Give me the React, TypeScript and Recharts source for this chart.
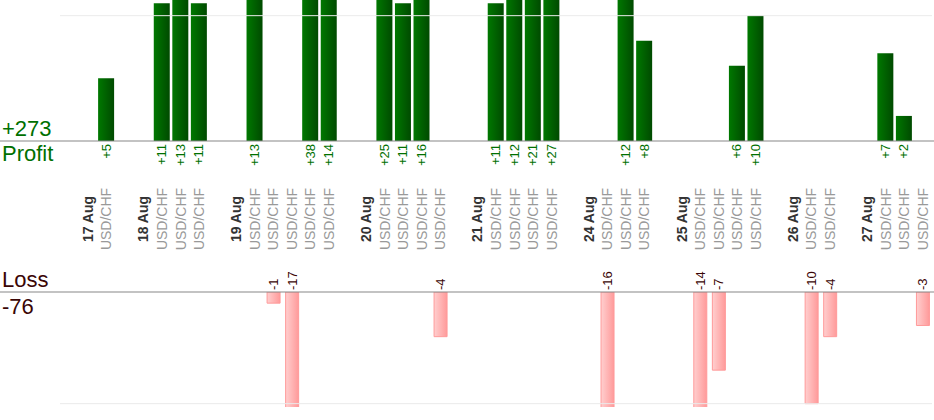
import { Bar, BarChart, LabelList, ReferenceLine, XAxis, YAxis } from "recharts";

const INSTRUMENT = "USD/CHF";
const DATES = ["17 Aug", "18 Aug", "19 Aug", "20 Aug", "21 Aug", "24 Aug", "25 Aug", "26 Aug", "27 Aug"];
// result of each trade, per day, in order
const TRADES = [
  [5],
  [11, 13, 11],
  [13, -1, -17, 38, 14],
  [25, 11, 16, -4],
  [11, 12, 21, 27],
  [-16, 12, 8],
  [-14, -7, 6, 10],
  [-10, -4],
  [7, 2, -3]
];

type Row = { slot: number; label: string; kind: "gap" | "date" | "trade"; profit: number | null; loss: number | null };

const rows: Row[] = [];
DATES.forEach((d, i) => {
  rows.push({ slot: rows.length, label: "", kind: "gap", profit: null, loss: null });
  rows.push({ slot: rows.length, label: d, kind: "date", profit: null, loss: null });
  TRADES[i].forEach((v) => {
    rows.push({
      slot: rows.length,
      label: INSTRUMENT,
      kind: "trade",
      profit: v > 0 ? v : null,
      loss: v < 0 ? v : null
    });
  });
});

const totalProfit = TRADES.flat().filter((v) => v > 0).reduce((a, b) => a + b, 0);
const totalLoss = TRADES.flat().filter((v) => v < 0).reduce((a, b) => a + b, 0);

const FONT = "'Liberation Sans', Arial, sans-serif";
const GREEN = "#007000";
const MAROON = "#3a0505";

function SlotTick(props: any) {
  const { x, y, payload } = props;
  const row = rows[payload.value];
  if (!row || !row.label) return null;
  const cy = y + 70;
  const isDate = row.kind === "date";
  return (
    <text
      x={x}
      y={cy}
      transform={`rotate(-90, ${x}, ${cy})`}
      textAnchor="middle"
      dominantBaseline="central"
      fontFamily={FONT}
      fontSize={14}
      fontWeight={isDate ? "bold" : "normal"}
      fill={isDate ? "#333" : "#999"}
    >
      {row.label}
    </text>
  );
}

function ProfitLabel(props: any) {
  const { x, y, width, height, value } = props;
  if (value == null) return null;
  const cx = x + width / 2;
  const base = Math.max(y, y + height) + 3;
  return (
    <text
      x={cx}
      y={base}
      transform={`rotate(-90, ${cx}, ${base})`}
      textAnchor="end"
      dominantBaseline="central"
      fontFamily={FONT}
      fontSize={13}
      fill={GREEN}
    >
      {`+${value}`}
    </text>
  );
}

function LossLabel(props: any) {
  const { x, y, width, height, value } = props;
  if (value == null) return null;
  const cx = x + width / 2;
  const base = Math.min(y, y + height) - 2;
  return (
    <text
      x={cx}
      y={base}
      transform={`rotate(-90, ${cx}, ${base})`}
      textAnchor="start"
      dominantBaseline="central"
      fontFamily={FONT}
      fontSize={13}
      fill={MAROON}
    >
      {`${value}`}
    </text>
  );
}

const fullWidthLine = (p: any) => (
  <line x1={0} x2={934} y1={p.y1} y2={p.y2} stroke="#888" strokeWidth={1.2} />
);

const textStyle = { position: "absolute" as const, left: 2, fontFamily: FONT, fontSize: 22, lineHeight: "22px" };

export default function App() {
  return (
    <div style={{ position: "absolute", left: 0, top: 0, width: 934, height: 420, background: "#fff" }}>
      <BarChart
        width={934}
        height={260}
        data={rows}
        margin={{ top: 0, right: 2, left: 60, bottom: 0 }}
        style={{ position: "absolute", left: 0, top: 0 }}
      >
        <defs>
          <linearGradient id="greenBar" x1="0" x2="1" y1="0" y2="0">
            <stop offset="0%" stopColor="#007800" />
            <stop offset="100%" stopColor="#004a00" />
          </linearGradient>
        </defs>
        <XAxis
          dataKey="slot"
          height={119}
          interval={0}
          axisLine={false}
          tickLine={false}
          tick={<SlotTick />}
        />
        <YAxis hide domain={[0, 11.25]} allowDataOverflow />
        <ReferenceLine y={10} stroke="#ebebeb" />
        <Bar dataKey="profit" fill="url(#greenBar)" barSize={16} isAnimationActive={false}>
          <LabelList dataKey="profit" content={<ProfitLabel />} />
        </Bar>
        <ReferenceLine y={0} shape={fullWidthLine} />
      </BarChart>

      <BarChart
        width={934}
        height={170}
        data={rows}
        margin={{ top: 42, right: 2, left: 60, bottom: 13 }}
        style={{ position: "absolute", left: 0, top: 250 }}
      >
        <defs>
          <linearGradient id="pinkBar" x1="0" x2="1" y1="0" y2="0">
            <stop offset="0%" stopColor="#ffcfcf" />
            <stop offset="100%" stopColor="#ff9a9a" />
          </linearGradient>
        </defs>
        <XAxis dataKey="slot" hide />
        <YAxis hide domain={[-10.3, 0]} allowDataOverflow />
        <ReferenceLine y={-10} stroke="#ebebeb" />
        <Bar dataKey="loss" fill="url(#pinkBar)" stroke="#ff9a9a" barSize={13} isAnimationActive={false}>
          <LabelList dataKey="loss" content={<LossLabel />} />
        </Bar>
        <ReferenceLine y={0} shape={fullWidthLine} />
      </BarChart>

      <div style={{ ...textStyle, top: 118, color: GREEN }}>{`+${totalProfit}`}</div>
      <div style={{ ...textStyle, top: 143, color: GREEN }}>Profit</div>
      <div style={{ ...textStyle, top: 269, color: MAROON }}>Loss</div>
      <div style={{ ...textStyle, top: 296, color: MAROON }}>{`${totalLoss}`}</div>
    </div>
  );
}
